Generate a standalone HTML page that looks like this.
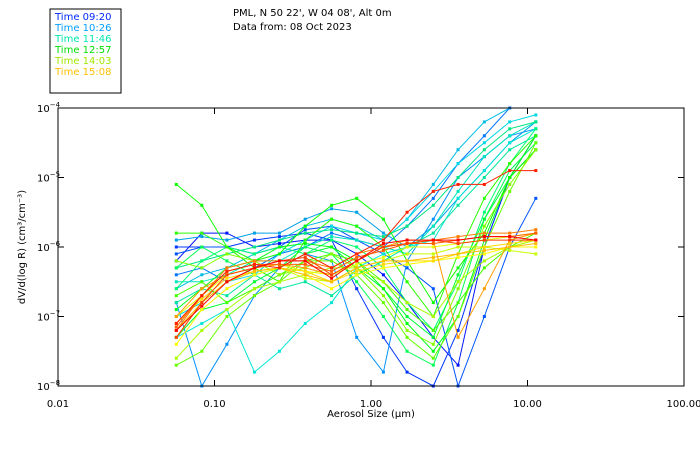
<!DOCTYPE html>
<html><head><meta charset="utf-8"><style>
body{margin:0;background:#fff;width:700px;height:450px;overflow:hidden;font-family:"Liberation Sans",sans-serif}
svg text{font-family:"DejaVu Sans","Liberation Sans",sans-serif}
</style></head><body>
<svg id="c" width="700" height="450" xmlns="http://www.w3.org/2000/svg">
<rect x="50" y="9" width="71" height="84" fill="none" stroke="#000"/>
<g font-size="10">
<text x="55" y="20" fill="#0028ff">Time 09:20</text>
<text x="55" y="31" fill="#00a0ff">Time 10:26</text>
<text x="55" y="42" fill="#00e8b0">Time 11:46</text>
<text x="55" y="53" fill="#00e000">Time 12:57</text>
<text x="55" y="64" fill="#a0e800">Time 14:03</text>
<text x="55" y="75" fill="#ffc000">Time 15:08</text>
</g>
<text x="233" y="16" font-size="10">PML, N 50 22', W 04 08', Alt 0m</text>
<text x="233" y="30" font-size="10">Data from: 08 Oct 2023</text>
<g id="plot"></g>
<rect x="58" y="108" width="626" height="278" fill="none" stroke="#000"/>
<g id="axes" font-size="10"></g>
<text x="371" y="417" font-size="10" text-anchor="middle">Aerosol Size (µm)</text>
<text transform="translate(25,247) rotate(-90)" font-size="10" text-anchor="middle">dV/d(log R) (cm³/cm⁻³)</text>
</svg>
<script>
const sizes=[0.057,0.083,0.12,0.18,0.26,0.38,0.56,0.81,1.2,1.7,2.5,3.6,5.3,7.7,11.3];
const xTicks=[0.01,0.1,1,10,100];
const xTickLabels=["0.01","0.10","1.00","10.00","100.00"];
const yTicks=[-4,-5,-6,-7,-8];
const s1=[-6.2,-5.8,-5.8,-6.0,-5.95,-5.9,-5.9,-6.1,-6.4,-6.8,-7.3,-7.7,-6.0,-5.0,-4.4];
const s2=[-6.0,-6.0,-6.0,-5.9,-5.85,-5.8,-5.9,-6.6,-7.3,-7.8,-8.0,-7.2,-6.0,-5.0,-4.6];
const s3=[-6.1,-6.0,-6.0,-6.1,-6.0,-5.75,-5.7,-5.9,-6.1,-6.3,-6.6,-8.0,-7.0,-6.0,-5.3];
const s4=[-6.4,-6.3,-6.5,-6.3,-6.1,-6.0,-5.8,-5.9,-6.0,-5.7,-5.3,-4.8,-4.4,-4.0,null];
const s5=[-6.8,-8.0,-7.4,-6.7,-6.3,-6.1,-6.2,-7.3,-7.8,-6.2,-5.6,-5.0,-4.7,-4.4,-4.3];
const s5b=[-5.9,-5.85,-5.9,-5.8,-5.8,-5.6,-5.45,-5.5,-5.8,-6.0,-5.7,-5.3,-4.9,-4.5,-4.2];
const s5c=[-6.6,-6.4,-6.3,-6.1,-5.9,-5.7,-5.6,-5.7,-5.9,-5.6,-5.1,-4.6,-4.2,-3.9,null];
const s6=[-7.0,-6.8,-6.5,-6.4,-6.1,-5.9,-5.7,-5.8,-5.9,-5.6,-5.2,-4.8,-4.5,-4.2,-4.1];
const s7=[-7.3,-7.1,-6.9,-7.8,-7.5,-7.1,-6.8,-6.3,-6.1,-6.0,-5.9,-5.3,-4.9,-4.5,-4.3];
const s8=[-6.5,-6.5,-6.4,-6.2,-6.2,-6.0,-5.85,-5.9,-6.0,-6.1,-5.7,-5.2,-4.7,-4.4,-4.2];
const s9=[-6.8,-6.6,-6.7,-6.4,-6.6,-6.5,-6.7,-6.4,-6.2,-6.0,-5.8,-5.4,-5.0,-4.6,-4.4];
const s9b=[-6.3,-6.2,-6.1,-6.0,-5.9,-5.8,-5.75,-5.8,-5.85,-5.7,-5.4,-5.0,-4.6,-4.3,-4.2];
const s10=[-6.6,-6.2,-6.0,-6.1,-6.0,-6.1,-5.9,-6.0,-6.3,-6.8,-7.2,-6.5,-5.5,-4.8,-4.3];
const s11=[-6.3,-6.0,-6.2,-6.4,-6.3,-6.0,-6.1,-6.5,-7.0,-7.5,-7.7,-6.8,-5.6,-4.9,-4.5];
const s12=[-7.3,-6.9,-6.8,-6.5,-6.3,-6.1,-6.0,-6.3,-6.6,-7.0,-7.3,-6.4,-5.6,-5.0,-4.6];
const s12b=[-6.9,-6.6,-6.3,-6.2,-6.0,-5.95,-6.0,-6.2,-6.6,-7.1,-7.5,-7.0,-5.9,-5.0,-4.4];
const s13=[-5.1,-5.4,-6.0,-6.2,-6.1,-5.7,-5.4,-5.3,-5.6,-6.2,-6.8,-6.3,-5.8,-5.0,-4.6];
const s14=[-5.8,-5.8,-6.0,-6.3,-6.5,-5.9,-5.6,-5.7,-6.0,-6.5,-7.0,-6.1,-5.3,-4.8,-4.4];
const s15=[-6.7,-6.5,-6.8,-6.6,-6.4,-6.2,-6.1,-6.2,-6.5,-6.9,-7.2,-6.8,-6.3,-6.0,-5.8];
const s16=[-7.7,-7.5,-7.0,-6.7,-6.5,-6.2,-6.2,-6.4,-6.8,-7.3,-7.6,-7.0,-6.0,-5.2,-4.5];
const s16b=[-6.2,-6.3,-6.1,-6.2,-6.4,-6.3,-6.1,-6.3,-6.7,-7.2,-7.4,-6.6,-5.7,-5.1,-4.6];
const s16c=[-7.6,-7.2,-6.9,-6.6,-6.5,-6.4,-6.3,-6.3,-6.5,-6.8,-7.0,-6.5,-6.2,-6.0,-5.9];
const s17=[-7.3,-6.8,-6.5,-6.35,-6.3,-6.45,-6.5,-6.3,-6.2,-6.1,-6.1,-6.0,-6.0,-6.05,-6.1];
const s18=[-7.0,-6.7,-6.4,-6.3,-6.25,-6.35,-6.4,-6.25,-6.15,-6.0,-6.0,-5.95,-5.9,-5.85,-5.8];
const s19=[-7.4,-6.9,-6.6,-6.4,-6.3,-6.4,-6.6,-6.4,-6.3,-6.25,-6.2,-6.15,-6.1,-6.0,-6.0];
const s19b=[-7.1,-6.75,-6.45,-6.35,-6.3,-6.35,-6.5,-6.35,-6.25,-6.2,-6.2,-6.1,-6.0,-5.95,-5.9];
const s20=[-7.2,-6.8,-6.5,-6.35,-6.3,-6.4,-6.5,-6.3,-6.2,-6.2,-6.15,-6.1,-6.05,-6.0,-5.95];
const s21=[-7.0,-6.6,-6.4,-6.3,-6.25,-6.3,-6.4,-6.2,-6.0,-5.9,-5.9,-7.3,-6.6,-5.9,-5.8];
const s22=[-7.2,-6.7,-6.3,-6.2,-6.2,-6.2,-6.3,-6.1,-6.0,-5.95,-5.9,-5.85,-5.8,-5.8,-5.75];
const s22b=[-7.15,-6.7,-6.35,-6.25,-6.25,-6.25,-6.35,-6.15,-6.05,-5.95,-5.95,-5.9,-5.85,-5.85,-5.8];
const s23=[-7.3,-6.8,-6.4,-6.3,-6.2,-6.15,-6.4,-6.2,-6.0,-5.95,-5.9,-5.95,-5.9,-5.9,-5.9];
const s24=[-7.1,-6.7,-6.35,-6.25,-6.3,-6.1,-6.3,-6.1,-5.9,-5.5,-5.2,-5.1,-5.1,-4.9,-4.9];
const s25=[-7.2,-6.85,-6.5,-6.3,-6.2,-6.2,-6.45,-6.2,-5.95,-5.9,-5.9,-5.9,-5.85,-5.85,-5.9];
const series=[s1,s2,s3,s4,s5,s5b,s5c,s6,s7,s8,s9,s9b,s10,s11,s12,s12b,s13,s14,s15,s16,s16b,s16c,s17,s18,s19,s19b,s20,s21,s22,s22b,s23,s24,s25];
const NS="http://www.w3.org/2000/svg";
const X0=58,X1=684,Y0=108,Y1=386;
function xs(v){return X0+(Math.log10(v)+2)/4*(X1-X0);}
function ys(l){return Y0+(-4-l)/4*(Y1-Y0);}
function mk(t,a){const e=document.createElementNS(NS,t);for(const k in a)e.setAttribute(k,a[k]);return e;}
const plot=document.getElementById('plot');
series.forEach((s,i)=>{
  const hue=235-235*i/(series.length-1);
  const col=`hsl(${hue},100%,${hue>150&&hue<200?45:50}%)`;
  const g=mk('g',{});
  
  
  let d='';
  s.forEach((v,j)=>{if(v===null)return;const x=xs(sizes[j]),y=Math.max(Y0,Math.min(Y1,ys(v)));d+=(d?'L':'M')+x.toFixed(1)+' '+y.toFixed(1);});
  const p=mk('path',{d:d,fill:'none',stroke:col,'stroke-width':1});
  
  
  g.appendChild(p);
  s.forEach((v,j)=>{if(v===null||v>-4||v<-8)return;const r=mk('rect',{x:xs(sizes[j])-1.5,y:ys(v)-1.5,width:3,height:3,fill:col});
    
    
    g.appendChild(r);});
  plot.appendChild(g);
});
const ax=document.getElementById('axes');
xTicks.forEach((t,i)=>{const x=xs(t);
  ax.appendChild(mk('line',{x1:x,x2:x,y1:Y1,y2:Y1-6,stroke:'#000'}));
  ax.appendChild(mk('line',{x1:x,x2:x,y1:Y0,y2:Y0+6,stroke:'#000'}));
  const tx=mk('text',{x:x,y:407,'text-anchor':'middle'});tx.textContent=xTickLabels[i];
  
  
  ax.appendChild(tx);});
yTicks.forEach(t=>{const y=ys(t);
  ax.appendChild(mk('line',{x1:X0,x2:X0+6,y1:y,y2:y,stroke:'#000'}));
  ax.appendChild(mk('line',{x1:X1,x2:X1-6,y1:y,y2:y,stroke:'#000'}));
  const tx=mk('text',{x:37,y:y+4});tx.innerHTML='10<tspan dy="-5" font-size="7">'+String(t).replace('-','−')+'</tspan>';
  
  
  ax.appendChild(tx);});
</script>
</body></html>
